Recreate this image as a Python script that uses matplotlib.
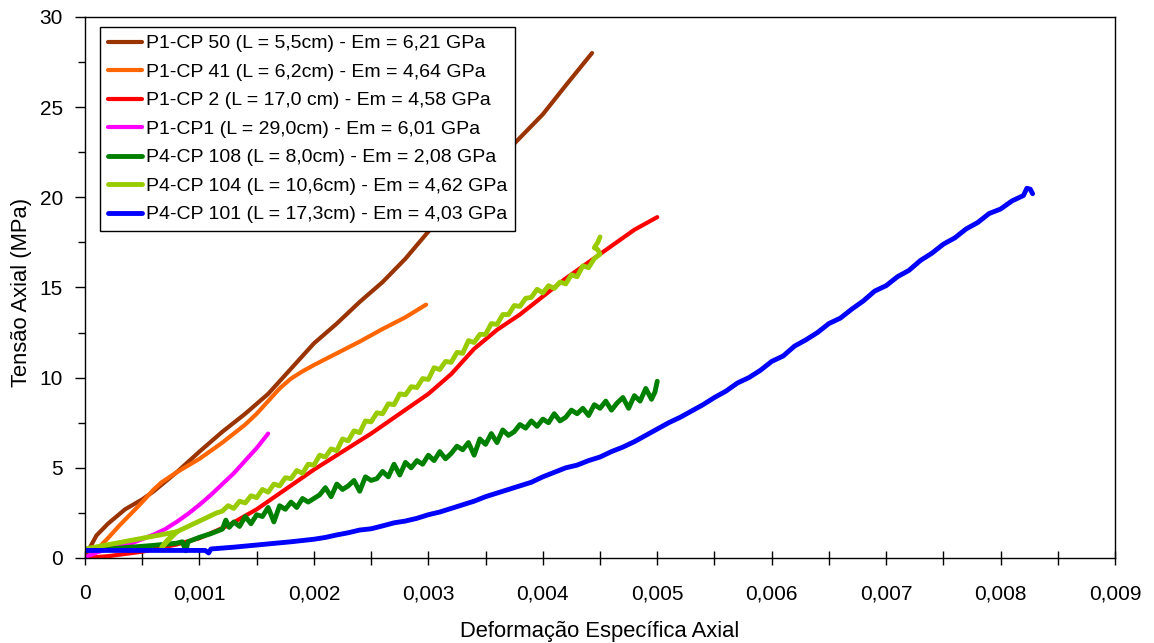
import matplotlib
matplotlib.use("Agg")
import matplotlib.pyplot as plt
import numpy as np
from matplotlib.ticker import MultipleLocator, FuncFormatter

plt.rcParams["font.family"] = ["Liberation Sans", "DejaVu Sans"]

# deformação em unidades de 1e-4, tensão em MPa
cp50_x = [0, 0.4, 1, 2, 3.5, 5, 6, 8, 10, 12, 14, 16, 18, 20, 22, 24, 26, 28, 30, 32, 34, 36, 38, 40, 42, 44.3]
cp50_y = [0.1, 0.55, 1.25, 1.9, 2.7, 3.25, 3.7, 4.75, 5.9, 7.0, 8.0, 9.1, 10.5, 11.9, 13.0, 14.2, 15.3, 16.6, 18.1,
          19.5, 20.8, 22.0, 23.3, 24.6, 26.2, 28.0]

cp41_x = [0.5, 1, 2, 3, 4.7, 6, 6.7, 8, 10, 12, 13, 14, 15, 16, 17, 18, 19, 20, 22, 24, 26, 28, 29.8]
cp41_y = [0, 0.45, 1.1, 1.8, 2.9, 3.8, 4.2, 4.75, 5.5, 6.4, 6.9, 7.4, 8.0, 8.7, 9.4, 9.95, 10.35, 10.7, 11.35, 12.0,
          12.7, 13.35, 14.05]

cp2_x = [0, 2, 5, 8, 10, 12.5, 15, 17.5, 20, 22.5, 25, 27.5, 30, 32, 34, 36, 38, 40, 42, 44, 46, 48, 50]
cp2_y = [0, 0.1, 0.35, 0.75, 1.1, 1.8, 2.7, 3.8, 4.9, 5.9, 6.9, 8.0, 9.1, 10.2, 11.6, 12.65, 13.5, 14.5, 15.5, 16.4,
         17.3, 18.2, 18.9]

cp1_x = [0, 1, 2, 4, 6, 7, 8, 9, 10, 11, 12, 13, 14, 15, 16]
cp1_y = [0.05, 0.3, 0.5, 0.8, 1.3, 1.6, 2.0, 2.45, 2.95, 3.5, 4.1, 4.7, 5.4, 6.1, 6.9]

cp108_x = [0, 2, 4, 6, 8, 8.5, 8.8, 9, 10, 11, 12, 12.3, 12.6, 13, 13.5, 14, 14.5, 15, 15.5, 16, 16.5, 17, 17.5,
           18, 18.5, 19, 19.5, 20, 20.5, 21, 21.5, 22, 22.5, 23, 23.5, 24, 24.5, 25, 25.5, 26, 26.5, 27, 27.5,
           28, 28.5, 29, 29.5, 30, 30.5, 31, 31.5, 32, 32.5, 33, 33.5, 34, 34.5, 35, 35.5, 36, 36.5, 37, 37.5,
           38, 38.5, 39, 39.5, 40, 40.5, 41, 41.5, 42, 42.5, 43, 43.5, 44, 44.5, 45, 45.5, 46, 46.5, 47, 47.5,
           48, 48.5, 49, 49.5, 49.8, 50]
cp108_y = [0.4, 0.5, 0.6, 0.7, 0.82, 0.9, 0.4, 0.9, 1.15, 1.35, 1.6, 2.1, 1.7, 2.0, 1.75, 2.3, 1.9, 2.4, 2.3, 2.8,
           2.0, 2.9, 2.7, 3.1, 2.8, 3.3, 3.1, 3.3, 3.5, 3.9, 3.4, 4.1, 3.8, 4.0, 4.3, 3.7, 4.5, 4.3, 4.4, 4.8,
           4.5, 5.2, 4.6, 5.3, 5.0, 5.4, 5.2, 5.7, 5.4, 5.9, 5.5, 5.8, 6.2, 6.0, 6.4, 5.7, 6.6, 6.3, 6.9, 6.4,
           7.1, 6.8, 7.0, 7.4, 7.2, 7.6, 7.3, 7.7, 7.5, 8.0, 7.6, 7.8, 8.2, 8.0, 8.3, 7.9, 8.5, 8.3, 8.7, 8.2,
           8.6, 8.9, 8.3, 9.0, 8.7, 9.4, 8.8, 9.2, 9.8]

cp104_x = [0, 8, 6.7, 7.2, 8, 9, 9.5, 10, 10.5, 11, 11.5, 12, 12.5, 13, 13.5, 14, 14.5, 15, 15.5, 16, 16.5, 17,
           17.5, 18, 18.5, 19, 19.5, 20, 20.5, 21, 21.5, 22, 22.5, 23, 23.5, 24, 24.5, 25, 25.5, 26, 26.5, 27,
           27.5, 28, 28.5, 29, 29.5, 30, 30.5, 31, 31.5, 32, 32.5, 33, 33.5, 34, 34.5, 35, 35.5, 36, 36.5, 37,
           37.5, 38, 38.5, 39, 39.5, 40, 40.5, 41, 41.5, 42, 42.5, 43, 43.5, 44, 44.5, 45, 44.8, 44.5, 44.8, 45]
cp104_y = [0.5, 1.45, 0.6, 1.0, 1.45, 1.75, 1.9, 2.05, 2.2, 2.35, 2.5, 2.6, 2.9, 2.75, 3.15, 3.05, 3.45, 3.35, 3.8,
           3.65, 4.1, 4.0, 4.45, 4.4, 4.85, 4.7, 5.2, 5.15, 5.7, 5.6, 6.05, 5.95, 6.6, 6.5, 7.05, 6.95, 7.6, 7.55,
           8.05, 8.0, 8.55, 8.5, 9.1, 9.05, 9.5, 9.45, 9.95, 9.9, 10.55, 10.45, 10.9, 10.85, 11.4, 11.35, 12.05,
           11.95, 12.4, 12.4, 13.0, 12.95, 13.5, 13.5, 14.0, 13.95, 14.4, 14.45, 14.9, 14.7, 15.1, 14.95, 15.3,
           15.2, 15.7, 15.6, 16.2, 16.1, 16.6, 16.85, 17.1, 17.2, 17.5, 17.8]

cp101_x = [0, 5, 10.5, 10.8, 11, 12, 13, 14, 15, 16, 17, 18, 19, 20, 21, 22, 23, 24, 25, 26, 27, 28, 29, 30, 31,
           32, 33, 34, 35, 36, 37, 38, 39, 40, 41, 42, 43, 44, 45, 46, 47, 48, 49, 50, 51, 52, 53, 54, 55, 56,
           57, 58, 59, 60, 61, 62, 63, 64, 65, 66, 67, 68, 69, 70, 71, 72, 73, 74, 75, 76, 77, 78, 79, 80, 81,
           82, 82.3, 82.6, 82.8]
cp101_y = [0.42, 0.42, 0.42, 0.28, 0.5, 0.55, 0.6, 0.66, 0.72, 0.78, 0.84, 0.9, 0.97, 1.04, 1.14, 1.28, 1.4,
           1.55, 1.62, 1.78, 1.95, 2.05, 2.2, 2.4, 2.55, 2.75, 2.95, 3.15, 3.4, 3.6, 3.8, 4.0, 4.2, 4.5, 4.75, 5.0,
           5.15, 5.4, 5.6, 5.9, 6.15, 6.45, 6.8, 7.15, 7.5, 7.8, 8.15, 8.5, 8.9, 9.25, 9.7, 10.0, 10.4, 10.9,
           11.2, 11.75, 12.1, 12.5, 13.0, 13.3, 13.8, 14.25, 14.8, 15.1, 15.6, 15.95, 16.5, 16.9, 17.4, 17.75,
           18.25, 18.6, 19.1, 19.35, 19.8, 20.1, 20.5, 20.45, 20.2]

series = [
    (cp50_x, cp50_y, "#993300", 3.0, "P1-CP 50 (L = 5,5cm) - Em = 6,21 GPa"),
    (cp41_x, cp41_y, "#FF6600", 3.0, "P1-CP 41 (L = 6,2cm) - Em = 4,64 GPa"),
    (cp2_x, cp2_y, "#FF0000", 3.0, "P1-CP 2 (L = 17,0 cm) - Em = 4,58 GPa"),
    (cp1_x, cp1_y, "#FF00FF", 3.0, "P1-CP1 (L = 29,0cm) - Em = 6,01 GPa"),
    (cp108_x, cp108_y, "#008000", 3.5, "P4-CP 108 (L = 8,0cm) - Em = 2,08 GPa"),
    (cp104_x, cp104_y, "#99CC00", 3.5, "P4-CP 104 (L = 10,6cm) - Em = 4,62 GPa"),
    (cp101_x, cp101_y, "#0000FF", 3.5, "P4-CP 101 (L = 17,3cm) - Em = 4,03 GPa"),
]

fig = plt.figure(figsize=(11.54, 6.43), dpi=100)
ax = fig.add_axes([0.0737, 0.1322, 0.9662 - 0.0737, 0.9736 - 0.1322])

for xs, ys, cor, lw, nome in series:
    ax.plot(np.array(xs) * 1e-4, ys, color=cor, lw=lw, label=nome, solid_capstyle="round", solid_joinstyle="round")

ax.set_xlim(0, 0.009)
ax.set_ylim(0, 30)
ax.xaxis.set_major_locator(MultipleLocator(0.001))
ax.xaxis.set_minor_locator(MultipleLocator(0.0005))
ax.yaxis.set_major_locator(MultipleLocator(5))
ax.yaxis.set_minor_locator(MultipleLocator(2.5))

def fmt_x(v, pos):
    if abs(v) < 1e-12:
        return "0"
    return ("%.3f" % v).replace(".", ",")

ax.xaxis.set_major_formatter(FuncFormatter(fmt_x))
ax.tick_params(axis="x", which="both", direction="inout", length=10, width=1, labelsize=15, pad=14)
ax.tick_params(axis="y", which="major", direction="out", length=7, width=1, labelsize=15, pad=9)
ax.tick_params(axis="y", which="minor", direction="out", length=5, width=1)

for s in ax.spines.values():
    s.set_linewidth(1)
    s.set_color("black")

ax.set_xlabel("Deformação Específica Axial", fontsize=15.8)
ax.xaxis.set_label_coords(0.5, -0.117)
ax.set_ylabel("Tensão Axial (MPa)", fontsize=15.8)
ax.yaxis.set_label_coords(-0.062, 0.49)
ax.yaxis.label.set_va("center")

leg = ax.legend(loc="upper left", bbox_to_anchor=(0.0146, 0.9815), borderaxespad=0, fontsize=14,
                frameon=True, fancybox=False, edgecolor="black", framealpha=1, handlelength=1.75,
                handletextpad=0.2, labelspacing=0.56, borderpad=0.4)
leg.get_frame().set_linewidth(1)

fig.savefig("out.png", dpi=100)
